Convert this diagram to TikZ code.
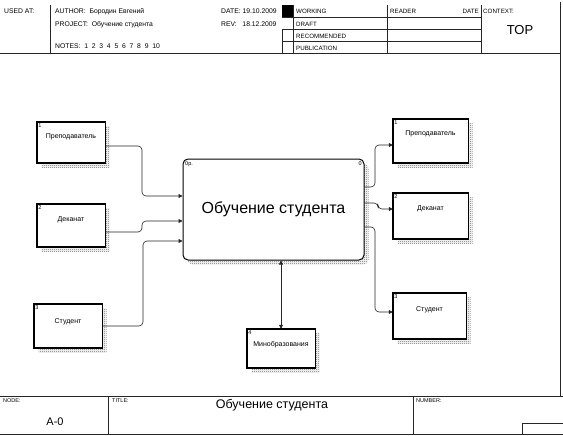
\documentclass[tikz,border=0pt]{standalone}
\usepackage{fontspec}
\setmainfont{Liberation Sans}
\usetikzlibrary{arrows.meta,patterns.meta}
\tikzdeclarepattern{
  name=checker,
  type=uncolored,
  bottom left={(0pt,0pt)},
  top right={(2pt,2pt)},
  tile size={(2pt,2pt)},
  code={
    \pgfpathrectangle{\pgfpoint{0pt}{0pt}}{\pgfpoint{1pt}{1pt}}
    \pgfpathrectangle{\pgfpoint{1pt}{1pt}}{\pgfpoint{1pt}{1pt}}
    \pgfusepath{fill}
  }
}
% #1 name, #2 cx, #3 cy, #4 width, #5 height
\newcommand{\entbox}[5]{%
  \path[shadowfill] ({#2-#4/2+4.5},{#3-#5/2+4.5}) rectangle ({#2+#4/2+4.5},{#3+#5/2+4.5});
  \node[entity, minimum width=#4pt, minimum height=#5pt] (#1) at (#2,#3) {};
  \draw[thickedge] (#1.north east) -- (#1.north west) -- (#1.south west) -- (#1.south east);
}
\begin{document}
\begin{tikzpicture}[x=1pt,y=-1pt,
  hdr/.style={font=\fontsize{6.8}{7}\selectfont, inner sep=0pt, anchor=base west},
  rowlbl/.style={font=\fontsize{6.2}{7}\selectfont, inner sep=0pt, anchor=base west},
  small/.style={font=\fontsize{5.5}{6}\selectfont, inner sep=0pt, anchor=base west},
  frameline/.style={line width=0.5pt, draw=black!85},
  entity/.style={draw=black, line width=0.5pt, fill=white, inner sep=0pt},
  shadowfill/.style={pattern=checker, pattern color=black!60},
  thickedge/.style={line width=1.7pt, draw=black, line cap=rect},
  boxlabel/.style={font=\fontsize{7}{8}\selectfont, inner sep=0pt},
  boxnum/.style={font=\fontsize{5.5}{6}\selectfont, inner sep=1.5pt, anchor=north west},
  conn/.style={draw=black!85, line width=0.6pt, rounded corners=4pt, -{Triangle[length=4pt,width=4pt]}},
  bidir/.style={draw=black!85, line width=0.6pt, {Triangle[length=4pt,width=4pt]}-{Triangle[length=4pt,width=4pt]}}
]
\useasboundingbox (0,0) rectangle (563,436);

% ---------- header ----------
\draw[frameline] (50,5) -- (50,53);
\draw[frameline] (282,5) -- (282,53);
\draw[frameline] (293,5) -- (293,53);
\draw[frameline] (387,5) -- (387,53);
\draw[frameline] (481,5) -- (481,53);
\draw[frameline] (560,2) -- (560,396);
\draw[frameline] (282,17.5) -- (481,17.5);
\draw[frameline] (282,29.5) -- (481,29.5);
\draw[frameline] (282,41.5) -- (481,41.5);
\draw[line width=0.7pt, draw=black!85] (0,53) -- (560,53);

\node[hdr] (usedat) at (4,14) {USED AT:};
\node[hdr] (author) at (55,14) {AUTHOR:\ \ Бородин Евгений};
\node[hdr] (project) at (55,26.5) {PROJECT:\ \ Обучение студента};
\node[hdr] (notes) at (55,49) {NOTES:\ \ 1\ \ 2\ \ 3\ \ 4\ \ 5\ \ 6\ \ 7\ \ 8\ \ 9\ \ 10};
\node[hdr] (date) at (221,14) {DATE: 19.10.2009};
\node[hdr] (rev) at (221,26.5) {REV:\ \ \ 18.12.2009};
\fill[white] (282.3,17.8) rectangle (292.7,29.2);
\fill[black] (282,5.5) rectangle (293,17.5);
\node[rowlbl] (working) at (296,14) {WORKING};
\node[rowlbl] (draft) at (296,26.5) {DRAFT};
\node[rowlbl] (recommended) at (296,38.5) {RECOMMENDED};
\node[rowlbl] (publication) at (296,50.5) {PUBLICATION};
\node[rowlbl] (reader) at (390,14) {READER};
\node[rowlbl, anchor=base east] (rdate) at (479,14) {DATE};
\node[rowlbl] (context) at (483,14) {CONTEXT:};
\node[font=\fontsize{13}{14}\selectfont, inner sep=0pt] (top) at (520,30) {TOP};

% ---------- entity boxes ----------
\entbox{L1}{71}{142.5}{68}{41}
\entbox{L2}{71}{225.5}{68}{43}
\entbox{L3}{68}{326}{68}{44}
\entbox{R1}{430.5}{141}{75}{44}
\entbox{R2}{430.5}{216}{75}{46}
\entbox{R3}{429.5}{316}{73}{46}
\entbox{B4}{281}{348.5}{68}{39}

% main activity
\path[shadowfill, rounded corners=5pt] (187.5,163.5) rectangle (368.5,264.5);
\node[draw=black, line width=1pt, fill=white, rounded corners=5pt, inner sep=0pt,
  minimum width=181pt, minimum height=101pt] (M) at (273.5,209.5) {};
\node[font=\fontsize{16}{18}\selectfont, inner sep=0pt] (Mlabel) at (M.center) {Обучение студента};
\node[boxnum] (Mnum) at ([xshift=1pt,yshift=-1pt]M.north west) {0р.};
\node[boxnum, anchor=north east] (Mzero) at ([xshift=-1pt,yshift=-1pt]M.north east) {0};

% labels
\node[boxnum] (n1) at (L1.north west) {1};
\node[boxlabel] (t1) at ([yshift=-15pt]L1.north) {Преподаватель};
\node[boxnum] (n2) at (L2.north west) {2};
\node[boxlabel] (t2) at ([yshift=-16pt]L2.north) {Деканат};
\node[boxnum] (n3) at (L3.north west) {3};
\node[boxlabel] (t3) at ([yshift=-18pt]L3.north) {Студент};
\node[boxnum] (m1) at (R1.north west) {1};
\node[boxlabel] (u1) at ([yshift=-15pt]R1.north) {Преподаватель};
\node[boxnum] (m2) at (R2.north west) {2};
\node[boxlabel] (u2) at ([yshift=-16pt]R2.north) {Деканат};
\node[boxnum] (m3) at (R3.north west) {3};
\node[boxlabel] (u3) at ([yshift=-17pt]R3.north) {Студент};
\node[boxnum] (n4) at (B4.north west) {4};
\node[boxlabel] (t4) at ([yshift=-16pt]B4.north) {Минобразования};

% ---------- connectors ----------
\draw[conn] ([yshift=-3.5pt]L1.east) -- (142,146) -- (142,196) -- ([yshift=13.5pt]M.west);
\draw[conn] ([yshift=-6.5pt]L2.east) -- (142,232) -- (142,221) -- ([yshift=-11.5pt]M.west);
\draw[conn] (L3.east) -- (143,326) -- (143,241) -- ([yshift=-31.5pt]M.west);
\draw[conn] ([yshift=22.5pt]M.east) -- (375,187) -- (375,145) -- ([yshift=-4pt]R1.west);
\draw[conn] ([yshift=6.5pt]M.east) -- (378,203) -- (378,209) -- ([yshift=7pt]R2.west);
\draw[conn] ([yshift=-17.5pt]M.east) -- (375,227) -- (375,312) -- ([yshift=4pt]R3.west);
\draw[bidir] (B4.north) -- (B4.north |- M.south);

% ---------- footer ----------
\draw[frameline] (0,396) -- (563,396);
\draw[line width=0.7pt, draw=black!85] (0,434) -- (563,434);
\draw[frameline] (108,396) -- (108,434);
\draw[frameline] (413,396) -- (413,434);
\draw[frameline] (522,434) -- (522,423) -- (563,423);
\node[small] (nodelbl) at (3,402) {NODE:};
\node[font=\fontsize{11}{12}\selectfont, inner sep=0pt] (nodeval) at (55,422) {A-0};
\node[small] (titlelbl) at (112,402) {TITLE:};
\node[font=\fontsize{12.5}{14}\selectfont, inner sep=0pt] (titleval) at (272,405) {Обучение студента};
\node[small] (numlbl) at (416,402) {NUMBER:};
\end{tikzpicture}
\end{document}
